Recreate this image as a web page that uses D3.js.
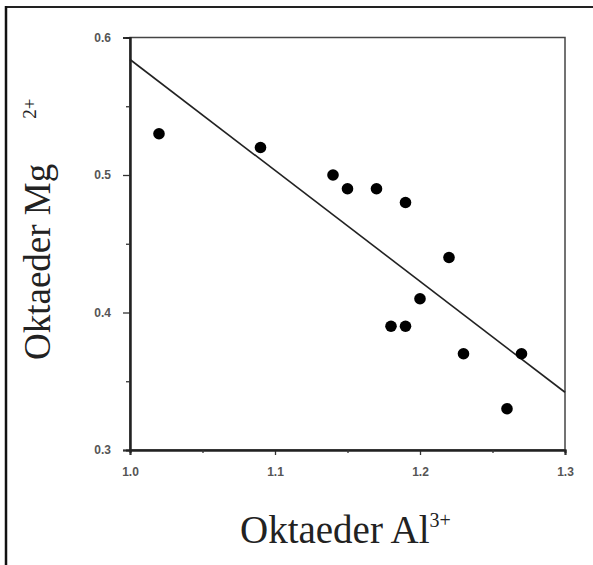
<!DOCTYPE html>
<html>
<head>
<meta charset="utf-8">
<script src="https://cdn.jsdelivr.net/npm/d3@7"></script>
<style>
  body { margin: 0; background: #fff; }
  svg { display: block; }
</style>
</head>
<body>
<svg></svg>
<script>
var alValues = [1.02, 1.09, 1.14, 1.15, 1.17, 1.19, 1.22, 1.20, 1.18, 1.19, 1.23, 1.27, 1.26]
var mgValues = [0.53, 0.52, 0.50, 0.49, 0.49, 0.48, 0.44, 0.41, 0.39, 0.39, 0.37, 0.37, 0.33]
var lineAl = [1.0, 1.3]
var lineMg = [0.584, 0.342]
var xTicks = [1.0, 1.1, 1.2, 1.3]
var yTicks = [0.3, 0.4, 0.5, 0.6]

var width = 593, height = 565
var padL = 130, padR = 565, padT = 37.5, padB = 450

var svg = d3.select('svg').attr('width', width).attr('height', height)

// outer frame (only top and left edges visible)
svg.append('line').attr('x1', 6).attr('x2', width).attr('y1', 7).attr('y2', 7)
    .attr('stroke', '#222').attr('stroke-width', 2)
svg.append('line').attr('x1', 6).attr('x2', 6).attr('y1', 6).attr('y2', height)
    .attr('stroke', '#111').attr('stroke-width', 2.5)

var x = d3.scaleLinear().domain([1.0, 1.3]).range([padL, padR])
var y = d3.scaleLinear().domain([0.3, 0.6]).range([padB, padT])

// plot box
svg.append('rect')
    .attr('x', padL).attr('y', padT)
    .attr('width', padR - padL).attr('height', padB - padT)
    .attr('fill', 'none').attr('stroke', '#444').attr('stroke-width', 1.5)

svg.append('g')
    .attr('transform', 'translate(0,' + padB + ')')
    .call(d3.axisBottom(x).tickValues(xTicks).tickFormat(d3.format('.1f')).tickSize(5).tickPadding(12))
svg.append('g')
    .attr('transform', 'translate(0,' + padB + ')')
    .call(d3.axisBottom(x).tickValues([1.05, 1.15, 1.25]).tickFormat('').tickSize(3))

svg.append('g')
    .attr('transform', 'translate(' + padL + ',0)')
    .call(d3.axisLeft(y).tickValues(yTicks).tickFormat(d3.format('.1f')).tickSize(7).tickPadding(12))
svg.append('g')
    .attr('transform', 'translate(' + padL + ',0)')
    .call(d3.axisLeft(y).tickValues([0.35, 0.45, 0.55]).tickFormat('').tickSize(4))

svg.selectAll('.domain').attr('stroke', '#222').attr('stroke-width', 2)
svg.selectAll('.tick line').attr('stroke', '#333').attr('stroke-width', 1.3)
svg.selectAll('.tick text')
    .attr('fill', '#555')
    .style('font-family', 'Arial, "Liberation Sans", sans-serif')
    .style('font-size', '12px')
    .style('font-weight', 'bold')

// regression line
svg.append('line')
    .attr('x1', x(lineAl[0])).attr('y1', y(lineMg[0]))
    .attr('x2', x(lineAl[1])).attr('y2', y(lineMg[1]))
    .attr('stroke', '#222').attr('stroke-width', 1.6)

// points
svg.selectAll('circle.pt')
    .data(alValues)
    .enter()
    .append('circle')
    .attr('class', 'pt')
    .attr('cx', (d) => x(d))
    .attr('cy', (d, i) => y(mgValues[i]))
    .attr('r', 5.8)
    .attr('fill', '#000')

// axis titles
var xt = svg.append('text')
    .attr('x', 240).attr('y', 543)
    .style('font-family', '"Liberation Serif", "Times New Roman", serif')
    .style('font-size', '39px')
    .attr('fill', '#222')
xt.append('tspan').text('Oktaeder Al')
xt.append('tspan').attr('dy', -16).style('font-size', '20px').text('3+')

var yt = svg.append('text')
    .attr('transform', 'translate(50,360) rotate(-90)')
    .style('font-family', '"Liberation Serif", "Times New Roman", serif')
    .style('font-size', '37px')
    .attr('fill', '#222')
yt.append('tspan').text('Oktaeder Mg')
yt.append('tspan').attr('dx', 45).attr('dy', -14).style('font-size', '19px').text('2+')
</script>
</body>
</html>
